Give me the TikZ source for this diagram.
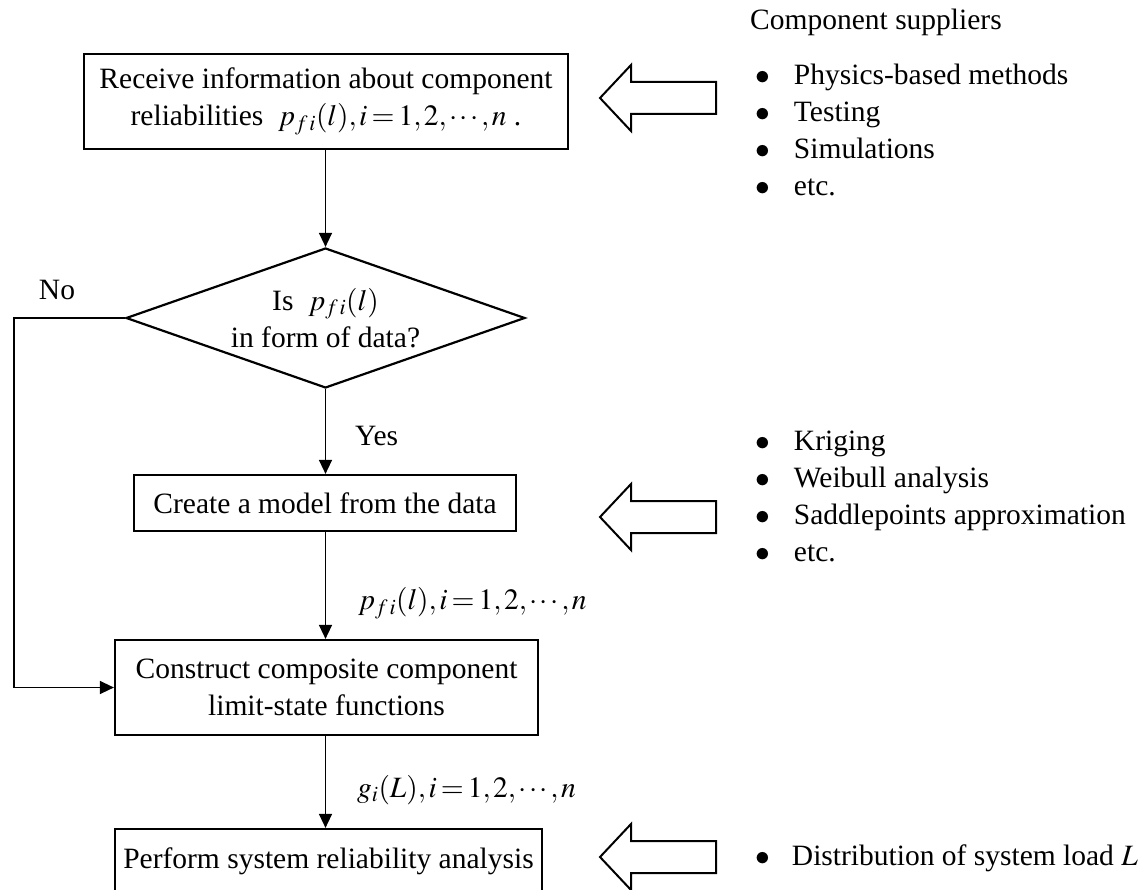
\documentclass[tikz,border=0pt]{standalone}
\usepackage{mathptmx}
\usepackage[no-math]{fontspec}
\setmainfont{Liberation Serif}
\usetikzlibrary{arrows.meta,shapes.geometric}
\newcommand{\pfi}{p_{f\,i}(l)}
\newcommand{\myfont}{\fontsize{29.5}{37}\selectfont}
\thickmuskip=2.5mu
\thinmuskip=1.5mu
\medmuskip=2mu
\begin{document}
\begin{tikzpicture}[x=1pt,y=-1pt,
  every node/.style={font=\myfont},
  box/.style={draw,line width=2.2pt,align=center,inner sep=0pt},
  conn/.style={line width=1.4pt,-{Triangle[length=14pt,width=13pt]}},
  lbl/.style={anchor=west,inner sep=0pt},
  hollow/.pic={\draw[line width=2pt,line join=miter] (0,0) -- (31,-33) -- (31,-16) -- (116,-16) -- (116,16) -- (31,16) -- (31,33) -- cycle;},
  list/.style={anchor=north west,inner sep=0pt,align=left}]
\useasboundingbox (0,0) rectangle (1142,890);

% flowchart
\node[box,minimum width=484pt,minimum height=95pt] (recv) at (326,101.5)
  {Receive information about component\\reliabilities \ $\pfi, i=1,2,\cdots,n$\ .};
\node[draw,diamond,line width=2.2pt,inner sep=0pt,minimum width=399pt,minimum height=140pt] (dec) at (325.5,318) {};
\node[align=center,inner sep=0pt] (dectxt) at (dec.center) {Is \ $\pfi$\\in form of data?};
\node[box,minimum width=382pt,minimum height=56pt] (create) at (325,503) {Create a model from the data};
\node[box,minimum width=423pt,minimum height=95pt] (constr) at (326.5,687.5) {Construct composite component\\limit-state functions};
\node[box,minimum width=427pt,minimum height=64pt] (perf) at (328.5,861) {Perform system reliability analysis};

\coordinate (nl) at (14,318);
\coordinate (nb) at (14,687.5);
\draw[conn] (recv.south -| dec.north) -- (dec.north);
\draw[conn] (dec.south) -- (create.north -| dec.south);
\draw[conn] (create.south -| dec.south) -- (constr.north -| dec.south);
\draw[conn] (constr.south -| dec.south) -- (perf.north -| dec.south);
\draw[conn] (dec.west) -- (nl) -- (nb) -- (constr.west);

\node (no) at (57,290) {No};
\node[lbl] (yes) at (355,436) {Yes};
\node[lbl] (l1) at (358,603) {$\pfi, i=1,2,\cdots,n$};
\node[lbl] (l2) at (357,790) {$g_i(L), i=1,2,\cdots,n$};

% side information
\node[lbl] (supp) at (750,22) {Component suppliers};
\pic at (600,98) {hollow};
\node[list] (list1) at (755,58) {\begin{tabular}{@{}l@{\hspace{24pt}}l@{}}
$\bullet$ & Physics-based methods\\
$\bullet$ & Testing\\
$\bullet$ & Simulations\\
$\bullet$ & etc.
\end{tabular}};
\pic at (600,517) {hollow};
\node[list] (list2) at (755,424) {\begin{tabular}{@{}l@{\hspace{24pt}}l@{}}
$\bullet$ & Kriging\\
$\bullet$ & Weibull analysis\\
$\bullet$ & Saddlepoints approximation\\
$\bullet$ & etc.
\end{tabular}};
\pic at (600,857) {hollow};
\node[lbl] (dist) at (755,858) {$\bullet$\hspace{22pt}Distribution of system load $L$};
\end{tikzpicture}
\end{document}
